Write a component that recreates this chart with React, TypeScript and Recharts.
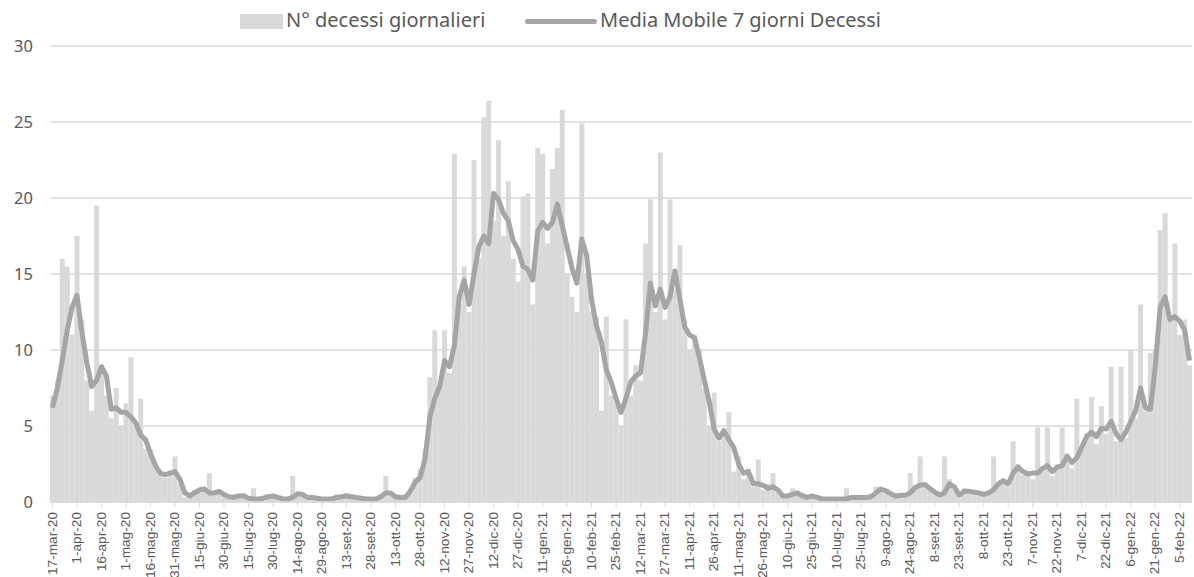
import React from 'react';
import { ComposedChart, Bar, Line, XAxis, YAxis, CartesianGrid } from 'recharts';

// one point every 3 days, from 17-mar-20 (day 0) to 11-feb-22 (day 696)
const decessi = [
  7.0, 8.0, 16.0, 15.5, 11.0, 17.5, 12.0, 8.0, 6.0, 19.5,
  9.0, 7.0, 5.5, 7.5, 5.0, 6.5, 9.5, 5.0, 6.8, 3.5,
  3.5, 2.5, 2.0, 1.6, 2.0, 3.0, 1.2, 0.3, 0.6, 0.8,
  0.9, 0.7, 1.9, 0.5, 0.8, 0.4, 0.3, 0.5, 0.3, 0.6,
  0.1, 0.9, 0.1, 0.3, 0.5, 0.4, 0.2, 0.1, 0.3, 1.7,
  0.5, 0.6, 0.2, 0.4, 0.1, 0.3, 0.1, 0.2, 0.5, 0.3,
  0.6, 0.2, 0.4, 0.1, 0.3, 0.1, 0.2, 0.4, 1.7, 0.5,
  0.3, 0.2, 0.5, 0.9, 1.6, 2.2, 3.5, 8.2, 11.3, 7.5,
  11.3, 8.5, 22.9, 13.0, 15.5, 12.5, 22.5, 16.0, 25.3, 26.4,
  18.5, 23.8, 17.5, 21.1, 16.0, 14.5, 20.1, 20.3, 13.0, 23.3,
  22.9, 17.0, 21.9, 23.3, 25.8, 15.0, 13.5, 12.5, 24.9, 15.0,
  12.5, 12.2, 6.0, 12.2, 7.0, 6.5, 5.0, 12.0, 7.0, 9.0,
  8.0, 17.0, 19.9, 12.5, 23.0, 12.0, 19.9, 14.0, 16.9, 12.0,
  10.0, 11.0, 10.0, 7.5, 5.0, 7.2, 4.0, 4.5, 5.9, 2.0,
  3.0, 1.5, 2.2, 1.0, 2.8, 0.8, 1.2, 1.9, 0.6, 0.3,
  0.5, 0.9, 0.4, 0.6, 0.2, 0.5, 0.2, 0.1, 0.3, 0.1,
  0.2, 0.1, 0.9, 0.2, 0.4, 0.3, 0.2, 0.5, 1.0, 0.9,
  0.6, 0.4, 0.5, 0.3, 0.6, 1.9, 0.9, 3.0, 1.2, 0.8,
  0.5, 0.3, 3.0, 1.5, 0.8, 0.3, 0.9, 0.6, 0.8, 0.5,
  0.4, 0.7, 3.0, 1.3, 1.5, 1.0, 4.0, 2.5, 1.8, 2.0,
  1.5, 4.9, 2.0, 4.9, 1.7, 2.5, 4.9, 3.2, 2.2, 6.8,
  3.5, 4.5, 6.9, 3.8, 6.3, 4.5, 8.9, 4.0, 8.9, 4.2,
  10.0, 5.5, 13.0, 6.0, 9.8, 10.0, 17.9, 19.0, 12.0, 17.0,
  11.0, 12.0, 9.0,
];

const mediaMobile = [
  6.2, 7.5, 9.3, 11.3, 12.8, 13.6, 11.2, 9.2, 7.6, 8.0,
  8.9, 8.3, 6.1, 6.2, 5.9, 5.9, 5.6, 5.2, 4.4, 4.1,
  3.2, 2.4, 1.9, 1.8, 1.9, 2.0, 1.5, 0.6, 0.4, 0.6,
  0.8, 0.85, 0.6, 0.6, 0.7, 0.5, 0.35, 0.3, 0.4, 0.4,
  0.25, 0.2, 0.2, 0.25, 0.35, 0.4, 0.3, 0.2, 0.2, 0.3,
  0.55, 0.5, 0.3, 0.3, 0.25, 0.2, 0.2, 0.2, 0.3, 0.35,
  0.4, 0.35, 0.3, 0.25, 0.2, 0.2, 0.2, 0.35, 0.6, 0.6,
  0.35, 0.3, 0.3, 0.7, 1.3, 1.6, 2.8, 5.6, 6.8, 7.6,
  9.3, 8.9, 10.3, 13.5, 14.6, 13.0, 15.0, 16.8, 17.5, 17.0,
  20.3, 19.9, 19.0, 18.5, 17.2, 16.6, 15.5, 15.3, 14.6, 17.8,
  18.4, 18.0, 18.4, 19.6, 18.2, 16.8, 15.4, 14.4, 17.3, 16.2,
  13.3, 11.6, 10.5, 8.7, 7.9, 6.8, 5.9, 6.8, 7.9, 8.3,
  8.5, 11.1, 14.4, 12.9, 14.0, 12.8, 13.5, 15.2, 13.4, 11.5,
  11.0, 10.8, 9.5, 8.0, 6.6, 4.8, 4.2, 4.7, 4.1, 3.6,
  2.5, 1.9, 2.0, 1.2, 1.2, 1.1, 0.9, 1.0, 0.8, 0.4,
  0.4, 0.5, 0.6, 0.4, 0.3, 0.4, 0.3, 0.2, 0.2, 0.2,
  0.2, 0.2, 0.2, 0.3, 0.3, 0.3, 0.3, 0.35, 0.6, 0.85,
  0.75, 0.55, 0.4, 0.45, 0.45, 0.6, 0.95, 1.1, 1.15, 0.9,
  0.65, 0.45, 0.6, 1.2, 1.0, 0.45, 0.7, 0.7, 0.65, 0.6,
  0.5, 0.6, 0.8, 1.2, 1.4, 1.2, 1.9, 2.3, 2.0, 1.85,
  1.9, 1.9, 2.2, 2.4, 2.0, 2.3, 2.4, 3.0, 2.6, 2.9,
  3.6, 4.3, 4.6, 4.3, 4.85, 4.8, 5.3, 4.5, 4.1, 4.6,
  5.3, 6.0, 7.5, 6.2, 6.1, 8.9, 12.8, 13.5, 12.0, 12.2,
  11.9, 11.3, 9.3,
];

// one label every 15 days
const tickLabels = [
  '17-mar-20', '1-apr-20', '16-apr-20', '1-mag-20', '16-mag-20', '31-mag-20',
  '15-giu-20', '30-giu-20', '15-lug-20', '30-lug-20', '14-ago-20', '29-ago-20',
  '13-set-20', '28-set-20', '13-ott-20', '28-ott-20', '12-nov-20', '27-nov-20',
  '12-dic-20', '27-dic-20', '11-gen-21', '26-gen-21', '10-feb-21', '25-feb-21',
  '12-mar-21', '27-mar-21', '11-apr-21', '26-apr-21', '11-mag-21', '26-mag-21',
  '10-giu-21', '25-giu-21', '10-lug-21', '25-lug-21', '9-ago-21', '24-ago-21',
  '8-set-21', '23-set-21', '8-ott-21', '23-ott-21', '7-nov-21', '22-nov-21',
  '7-dic-21', '22-dic-21', '6-gen-22', '21-gen-22', '5-feb-22',
];

const yTicks = [0, 5, 10, 15, 20, 25, 30];

const data = mediaMobile.map((m, i) => ({
  day: i * 3,
  decessi: decessi[i],
  media: m,
}));

const TEXT = '#595959';

const DateTick = (props: any) => {
  const { x, y, payload } = props;
  const label = tickLabels[Math.round(payload.value / 15)] ?? '';
  return (
    <g transform={`translate(${x},${y}) rotate(-90) scale(1.14,1)`}>
      <text
        x={0}
        y={0}
        dy="0.35em"
        textAnchor="end"
        fill={TEXT}
        fontSize={12}
        fontFamily="'Liberation Sans', Arial, sans-serif"
      >
        {label}
      </text>
    </g>
  );
};

const Legenda = () => (
  <div
    style={{
      position: 'absolute',
      left: 0,
      top: 0,
      width: 1194,
      height: 40,
      fontFamily: "'Noto Sans', sans-serif",
      fontSize: 20,
      color: TEXT,
    }}
  >
    <div style={{ position: 'absolute', left: 240, top: 14, width: 43, height: 15, background: '#d9d9d9' }} />
    <div style={{ position: 'absolute', left: 286, top: 6, lineHeight: '28px' }}>N° decessi giornalieri</div>
    <div
      style={{
        position: 'absolute',
        left: 525,
        top: 19,
        width: 72,
        height: 5,
        borderRadius: 3,
        background: '#a5a5a5',
      }}
    />
    <div style={{ position: 'absolute', left: 600, top: 6, lineHeight: '28px' }}>Media Mobile 7 giorni Decessi</div>
  </div>
);

export default function App() {
  return (
    <div style={{ position: 'absolute', left: 0, top: 0, width: 1194, height: 577, background: '#fff' }}>
      <ComposedChart
        width={1194}
        height={577}
        data={data}
        margin={{ top: 46, right: 2, bottom: 0, left: 0 }}
        barCategoryGap={0}
        barGap={0}
      >
        <CartesianGrid vertical={false} stroke="#d9d9d9" strokeWidth={1.3} />
        <XAxis
          dataKey="day"
          interval={4}
          height={75}
          tick={<DateTick />}
          tickSize={5}
          tickMargin={5}
          axisLine={{ stroke: '#d9d9d9', strokeWidth: 1.3 }}
          tickLine={{ stroke: '#d9d9d9' }}
        />
        <YAxis
          domain={[0, 30]}
          ticks={yTicks}
          width={50}
          axisLine={false}
          tickLine={false}
          tickSize={6}
          tickMargin={11}
          tick={{ fill: TEXT, fontSize: 16.5, fontFamily: "'Noto Sans', sans-serif" }}
        />
        <Bar dataKey="decessi" fill="#d9d9d9" isAnimationActive={false} />
        <Line
          type="linear"
          dataKey="media"
          stroke="#a5a5a5"
          strokeWidth={5}
          dot={false}
          strokeLinejoin="round"
          isAnimationActive={false}
        />
      </ComposedChart>
      <Legenda />
    </div>
  );
}
